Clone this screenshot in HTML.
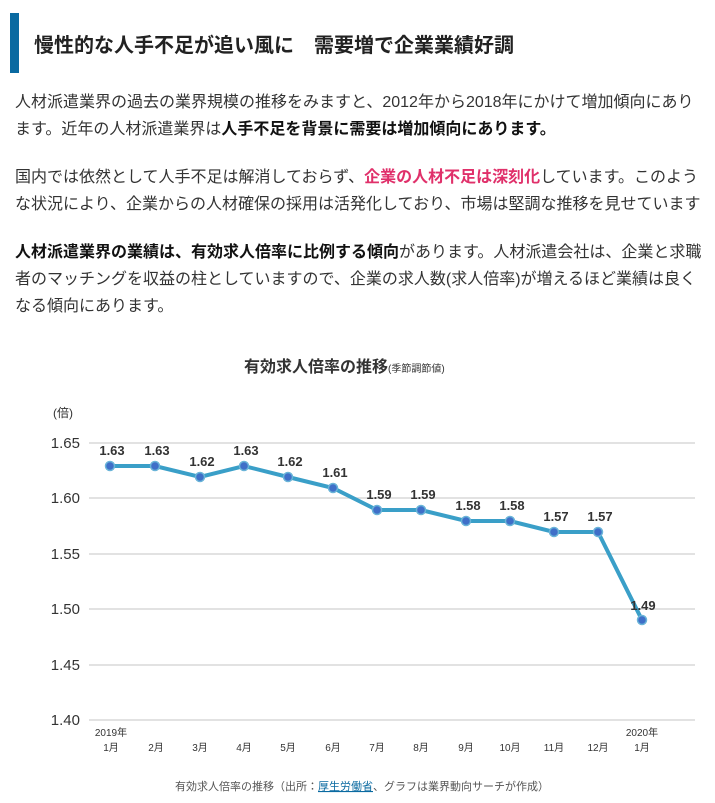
<!DOCTYPE html>
<html><head><meta charset="utf-8"><style>
body{margin:0;width:715px;height:803px;background:#fff;font-family:"Liberation Sans","Noto Sans CJK JP",sans-serif;color:#333;overflow:hidden;position:relative}
.h{position:absolute;left:10px;top:13px;width:9px;height:60px;background:#0a6aa1}
.ht{position:absolute;left:34px;top:29px;font-size:20px;color:#222;white-space:nowrap;font-weight:bold}
p{position:absolute;left:15px;margin:0;font-size:16px;line-height:27px;width:700px;white-space:nowrap}
b{color:#111}
.r{color:#e0306a;font-weight:bold}
</style></head><body>
<div class="h"></div>
<div class="ht">慢性的な人手不足が追い風に　需要増で企業業績好調</div>
<p style="top:89px">人材派遣業界の過去の業界規模の推移をみますと、2012年から2018年にかけて増加傾向にあり<br>ます。近年の人材派遣業界は<b>人手不足を背景に需要は増加傾向にあります。</b></p>
<p style="top:164px">国内では依然として人手不足は解消しておらず、<span class="r">企業の人材不足は深刻化</span>しています。このよう<br>な状況により、企業からの人材確保の採用は活発化しており、市場は堅調な推移を見せています</p>
<p style="top:239px"><b>人材派遣業界の業績は、有効求人倍率に比例する傾向</b>があります。人材派遣会社は、企業と求職<br>者のマッチングを収益の柱としていますので、企業の求人数(求人倍率)が増えるほど業績は良く<br>なる傾向にあります。</p>
<svg style="position:absolute;left:0;top:340px" width="715" height="463" font-family="Liberation Sans,Noto Sans CJK JP,sans-serif">
<text x="244" y="32" font-size="16" fill="#333" font-weight="bold">有効求人倍率の推移<tspan font-size="10" font-weight="normal">(季節調節値)</tspan></text>
<text x="53" y="77" font-size="12" fill="#333">(倍)</text>
<g stroke="#d8d8d8" stroke-width="1.5">
<line x1="89" x2="695" y1="103" y2="103"/><line x1="89" x2="695" y1="158" y2="158"/><line x1="89" x2="695" y1="214" y2="214"/><line x1="89" x2="695" y1="269" y2="269"/><line x1="89" x2="695" y1="325" y2="325"/><line x1="89" x2="695" y1="380" y2="380"/>
</g>
<g font-size="15" fill="#333" text-anchor="end">
<text x="80" y="108">1.65</text><text x="80" y="163">1.60</text><text x="80" y="219">1.55</text><text x="80" y="274">1.50</text><text x="80" y="330">1.45</text><text x="80" y="385">1.40</text>
</g>
<polyline fill="none" stroke="#3a9fc8" stroke-width="4" points="110,126 155,126 200,137 244,126 288,137 333,148 377,170 421,170 466,181 510,181 554,192 598,192 642,280"/>
<g fill="#3f6fc8" stroke="#6ab4d8" stroke-width="1.5">
<circle cx="110" cy="126" r="4.5"/><circle cx="155" cy="126" r="4.5"/><circle cx="200" cy="137" r="4.5"/><circle cx="244" cy="126" r="4.5"/><circle cx="288" cy="137" r="4.5"/><circle cx="333" cy="148" r="4.5"/><circle cx="377" cy="170" r="4.5"/><circle cx="421" cy="170" r="4.5"/><circle cx="466" cy="181" r="4.5"/><circle cx="510" cy="181" r="4.5"/><circle cx="554" cy="192" r="4.5"/><circle cx="598" cy="192" r="4.5"/><circle cx="642" cy="280" r="4.5"/>
</g>
<g font-size="13" font-weight="bold" fill="#333" text-anchor="middle">
<text x="112" y="115">1.63</text><text x="157" y="115">1.63</text><text x="202" y="126">1.62</text><text x="246" y="115">1.63</text><text x="290" y="126">1.62</text><text x="335" y="137">1.61</text><text x="379" y="159">1.59</text><text x="423" y="159">1.59</text><text x="468" y="170">1.58</text><text x="512" y="170">1.58</text><text x="556" y="181">1.57</text><text x="600" y="181">1.57</text><text x="643" y="270">1.49</text>
</g>
<g font-size="10" fill="#333" text-anchor="middle">
<text x="111" y="396">2019年</text><text x="111" y="411">1月</text><text x="156" y="411">2月</text><text x="200" y="411">3月</text><text x="244" y="411">4月</text><text x="288" y="411">5月</text><text x="333" y="411">6月</text><text x="377" y="411">7月</text><text x="421" y="411">8月</text><text x="466" y="411">9月</text><text x="510" y="411">10月</text><text x="554" y="411">11月</text><text x="598" y="411">12月</text><text x="642" y="396">2020年</text><text x="642" y="411">1月</text>
</g>
<text x="362" y="450" font-size="11" fill="#555" text-anchor="middle">有効求人倍率の推移（出所：<tspan fill="#0a6aa1" text-decoration="underline">厚生労働省</tspan>、グラフは業界動向サーチが作成）</text>
</svg>
</body></html>
